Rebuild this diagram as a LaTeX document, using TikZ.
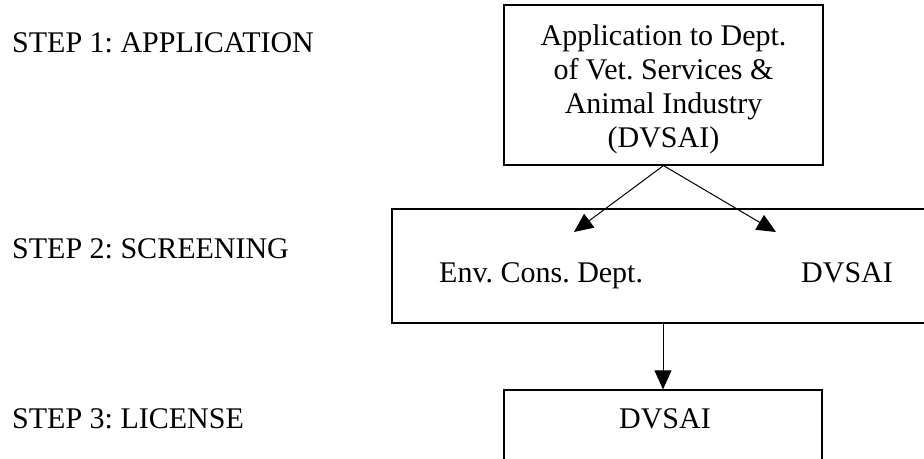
\documentclass[tikz,border=0pt]{standalone}
\usepackage{fontspec}
\setmainfont{Liberation Serif}
\usetikzlibrary{arrows.meta}
\frenchspacing
\begin{document}
\begin{tikzpicture}[x=1pt,y=1pt,
  boxstyle/.style={draw, line width=1.2pt, inner sep=0pt, rectangle},
  txt/.style={inner sep=0pt, font=\fontsize{30}{34}\selectfont},
  conn/.style={line width=1pt, -{Triangle[length=19pt,width=17pt]}}]
\useasboundingbox (0,0) rectangle (924,-458);
\clip (0,0) rectangle (924,-458);
% step labels
\node[txt, anchor=base west] (s1) at (12,-52) {STEP 1: APPLICATION};
\node[txt, anchor=base west] (s2) at (12,-258) {STEP 2: SCREENING};
\node[txt, anchor=base west] (s3) at (12,-428) {STEP 3: LICENSE};
% boxes
\node[boxstyle, minimum width=319pt, minimum height=160pt] (app) at (663.5,-85) {};
\node[txt, align=center, anchor=base] (apptext) at (663.5,-147)
  {Application to Dept.\\ of Vet. Services \&\\ Animal Industry\\ (DVSAI)};
\node[boxstyle, minimum width=540pt, minimum height=114pt] (screen) at (662,-266) {};
\node[txt, anchor=base west] (env) at (439,-282) {Env. Cons. Dept.};
\node[txt, anchor=base west] (dv2) at (801,-282) {DVSAI};
\node[boxstyle, minimum width=318pt, minimum height=70pt] (lic) at (663,-425) {};
\node[txt, anchor=base] (dv3) at (665,-428) {DVSAI};
% arrow ends
\coordinate (e1) at (574,-232);
\coordinate (e2) at (776,-232);
\draw[conn] (app.south) -- (e1);
\draw[conn] (app.south) -- (e2);
\draw[conn] (lic.north |- screen.south) -- (lic.north);
\end{tikzpicture}
\end{document}
